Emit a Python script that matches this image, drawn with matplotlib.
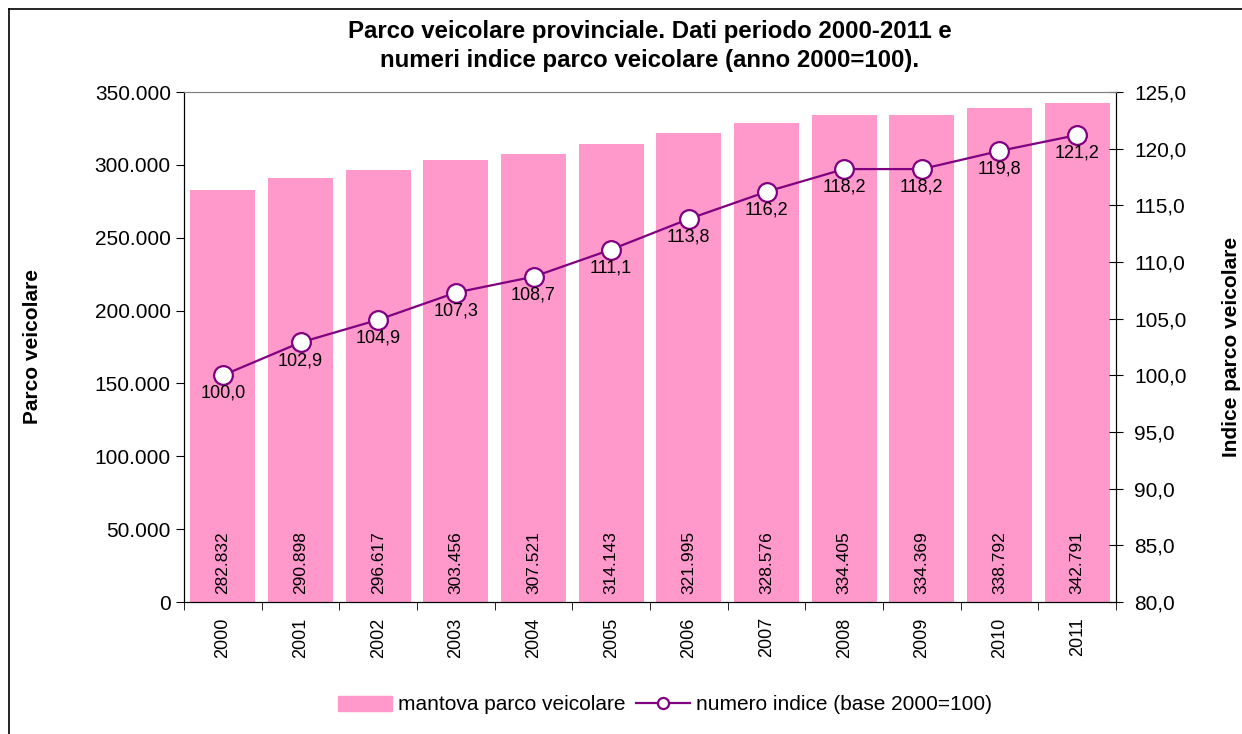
import matplotlib.pyplot as plt
from matplotlib.lines import Line2D
from matplotlib.patches import Patch
from matplotlib.ticker import FuncFormatter, MultipleLocator, FixedLocator

plt.rcParams['font.family'] = ['Liberation Sans', 'DejaVu Sans']

# dati
anni = ['2000', '2001', '2002', '2003', '2004', '2005',
        '2006', '2007', '2008', '2009', '2010', '2011']
parco = [282832, 290898, 296617, 303456, 307521, 314143,
         321995, 328576, 334405, 334369, 338792, 342791]
indice = [100.0, 102.9, 104.9, 107.3, 108.7, 111.1,
          113.8, 116.2, 118.2, 118.2, 119.8, 121.2]

bar_col = '#FF99CC'
line_col = '#800080'

fig = plt.figure(figsize=(12.42, 7.34), dpi=100)
ax = fig.add_axes([184/1242, 1 - 602/734, (1116 - 184)/1242, (602 - 92)/734])
ax2 = ax.twinx()

x = list(range(len(anni)))
ax.bar(x, parco, width=0.84, color=bar_col, zorder=2)
ax.set_xlim(-0.5, len(anni) - 0.5)
ax.set_ylim(0, 350000)
ax.yaxis.set_major_locator(MultipleLocator(50000))
ax.yaxis.set_major_formatter(FuncFormatter(lambda v, p: f"{v:,.0f}".replace(',', '.')))
ax.tick_params(axis='y', labelsize=15, length=6, direction='out')
ax.set_xticks(x)
ax.set_xticklabels(anni, rotation=90, fontsize=13)
ax.tick_params(axis='x', length=0, pad=11)
ax.xaxis.set_minor_locator(FixedLocator([i - 0.5 for i in range(len(anni) + 1)]))
ax.tick_params(axis='x', which='minor', length=6, direction='out')

for i, v in enumerate(parco):
    ax.annotate(f"{v:,.0f}".replace(',', '.'), (i, 0), xytext=(0, 6),
                textcoords='offset points', rotation=90, ha='center', va='bottom',
                fontsize=12.5)

ax2.plot(x, indice, color=line_col, lw=1.6, marker='o', ms=13.5,
         mfc='white', mec=line_col, mew=1.6, zorder=5)
ax2.set_ylim(80, 125)
ax2.yaxis.set_major_locator(MultipleLocator(5))
ax2.yaxis.set_major_formatter(FuncFormatter(lambda v, p: f"{v:.1f}".replace('.', ',')))
ax2.tick_params(axis='y', labelsize=15, length=10, direction='inout', pad=8)

for i, v in enumerate(indice):
    ax2.annotate(f"{v:.1f}".replace('.', ','), (i, v), xytext=(0, -13),
                 textcoords='offset points', ha='center', va='center',
                 fontsize=13, zorder=6)

for a in (ax, ax2):
    a.spines['top'].set_color('#808080')
    a.spines['left'].set_color('black')
    a.spines['right'].set_color('black')
    a.spines['bottom'].set_color('black')

ax.set_ylabel('Parco veicolare', fontsize=15, fontweight='bold')
ax.yaxis.set_label_coords(-142/932, 0.5)
ax2.set_ylabel('Indice parco veicolare', fontsize=15, fontweight='bold')
ax2.yaxis.set_label_coords(1 + 106/932, 0.5)

fig.text(650/1242, 1 - 46/734, 'Parco veicolare provinciale. Dati periodo 2000-2011 e\n'
         'numeri indice parco veicolare (anno 2000=100).',
         ha='center', va='center', fontsize=17.3, fontweight='bold', linespacing=1.3)

handles = [Patch(color=bar_col, label='mantova parco veicolare'),
           Line2D([0], [0], color=line_col, lw=1.6, marker='o', ms=8, mfc='white',
                  mec=line_col, mew=1.6, label='numero indice (base 2000=100)')]
fig.legend(handles=handles, loc='center', bbox_to_anchor=(665/1242, 1 - 705/734),
           ncol=2, frameon=False, fontsize=15, handlelength=2.6, handleheight=0.7,
           columnspacing=0.5, handletextpad=0.3)

# cornice del grafico
fig.add_artist(Line2D([9/1242, 9/1242], [0, 1 - 9/734], color='black', lw=1.2))
fig.add_artist(Line2D([9/1242, 1], [1 - 9/734, 1 - 9/734], color='black', lw=1.2))

fig.savefig('out.png', dpi=100)
